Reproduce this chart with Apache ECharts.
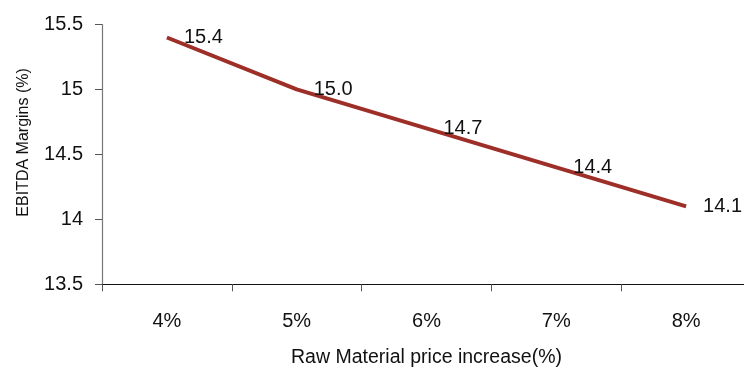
<!DOCTYPE html>
<html>
<head>
<meta charset="utf-8">
<title>EBITDA Margins sensitivity</title>
<script src="https://cdn.jsdelivr.net/npm/echarts@6/dist/echarts.min.js"></script>
<style>
  html, body { margin: 0; padding: 0; background: #fff; }
  #chart { width: 744px; height: 370px; }
</style>
</head>
<body>
<div id="chart"></div>
<script>
// Raw material price increase scenarios and resulting EBITDA margins
const categories = ['4%', '5%', '6%', '7%', '8%'];
const margins = [15.4, 15.0, 14.7, 14.4, 14.1];
const yTicks = { min: 13.5, max: 15.5, interval: 0.5 };

const face = '"Liberation Sans", Arial, sans-serif';

const chart = echarts.init(document.getElementById('chart'), null, { renderer: 'canvas' });
chart.setOption({
  animation: false,
  backgroundColor: '#ffffff',
  grid: {
    left: 102, top: 24.5, width: 649, bottom: 85.7,
    containLabel: false, outerBoundsMode: 'none'
  },
  xAxis: {
    type: 'category',
    data: categories,
    boundaryGap: true,
    name: 'Raw Material price increase(%)',
    nameLocation: 'middle',
    nameGap: 63,
    nameTextStyle: { fontFamily: face, fontSize: 19.5, color: '#111' },
    axisLine: { lineStyle: { color: '#111', width: 1.2 } },
    axisTick: { show: true, length: 7, lineStyle: { color: '#555' } },
    axisLabel: { fontFamily: face, fontSize: 20, color: '#111', margin: 27 },
    splitLine: { show: false }
  },
  yAxis: {
    type: 'value',
    min: yTicks.min,
    max: yTicks.max,
    interval: yTicks.interval,
    name: 'EBITDA Margins (%)',
    nameLocation: 'middle',
    nameGap: 70,
    nameTextStyle: { fontFamily: face, fontSize: 16, color: '#111', padding: [0, 0, 0, 24] },
    axisLine: { show: true, lineStyle: { color: '#777', width: 1.2 } },
    axisTick: { show: true, length: 7, lineStyle: { color: '#555' } },
    axisLabel: {
      fontFamily: face, fontSize: 20, color: '#111', margin: 19,
      formatter: v => String(v)
    },
    splitLine: { show: false }
  },
  series: [{
    type: 'line',
    data: margins,
    symbol: 'circle',
    symbolSize: 2,
    itemStyle: { color: 'transparent' },
    lineStyle: { color: '#9e2f28', width: 4 },
    label: {
      show: true,
      position: 'right',
      distance: 16,
      fontFamily: face,
      fontSize: 20,
      color: '#111',
      formatter: p => p.value.toFixed(1)
    }
  }]
});
</script>
</body>
</html>
